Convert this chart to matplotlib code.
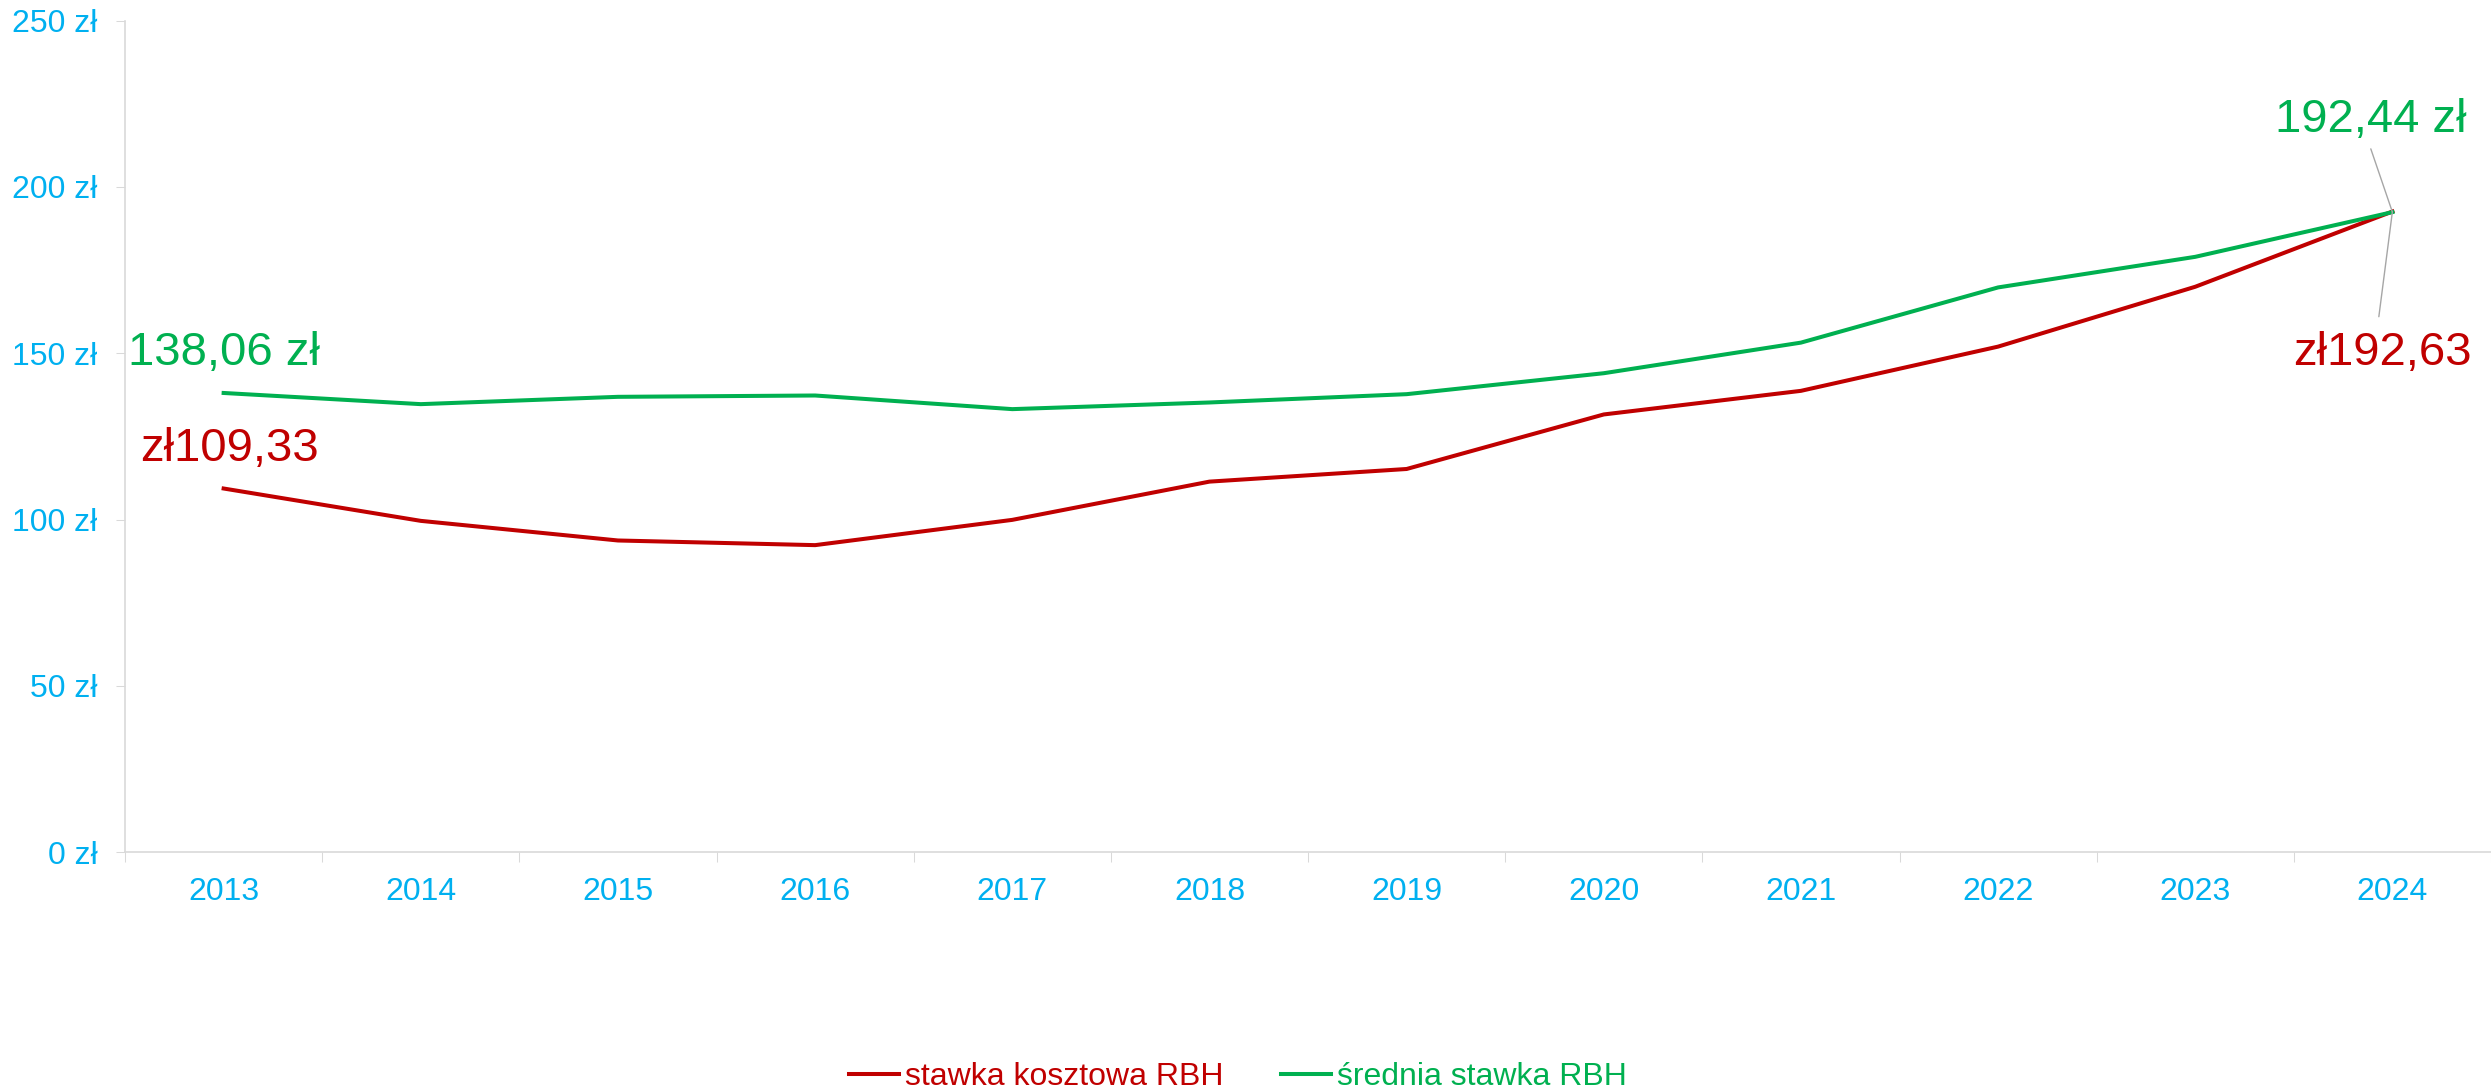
import matplotlib
matplotlib.use("Agg")
import matplotlib.pyplot as plt
from matplotlib.ticker import FixedLocator


plt.rcParams["font.family"] = ["Liberation Sans", "DejaVu Sans"]

years = ["2013", "2014", "2015", "2016", "2017", "2018",
         "2019", "2020", "2021", "2022", "2023", "2024"]

stawka_kosztowa = [109.33, 99.6, 93.7, 92.3, 99.9, 111.4,
                   115.2, 131.6, 138.7, 152.0, 170.0, 192.63]
srednia_stawka = [138.06, 134.7, 136.9, 137.3, 133.2, 135.2,
                  137.7, 144.0, 153.2, 169.8, 179.0, 192.44]

y_ticks = [0, 50, 100, 150, 200, 250]

RED = "#C00000"
GREEN = "#00B050"
BLUE = "#00B0F0"
GRID = "#D9D9D9"
LEADER = "#A6A6A6"


def pln_suffix(v):
    return f"{v:.2f}".replace(".", ",") + " zł"


def pln_prefix(v):
    return "zł" + f"{v:.2f}".replace(".", ",")


fig = plt.figure(figsize=(24.91, 10.91), dpi=100)
ax = fig.add_axes([0.0502, 0.219, 0.9498, 0.762])

x = list(range(len(years)))
ax.plot(x, stawka_kosztowa, color=RED, lw=2.9, label="stawka kosztowa RBH",
        solid_joinstyle="round")
ax.plot(x, srednia_stawka, color=GREEN, lw=2.9, label="średnia stawka RBH",
        solid_joinstyle="round")

ax.set_xlim(-0.5, len(years) - 0.5)
ax.set_ylim(0, 250)

ax.set_yticks(y_ticks)
ax.set_yticklabels([f"{t} zł" for t in y_ticks])
ax.set_xticks(x)
ax.set_xticklabels(years)
ax.xaxis.set_minor_locator(FixedLocator([i - 0.5 for i in range(len(years) + 1)]))

ax.tick_params(axis="y", colors=GRID, labelcolor=BLUE, labelsize=23,
               length=6.5, width=0.75, pad=13.5)
ax.tick_params(axis="x", which="major", length=0, labelcolor=BLUE,
               labelsize=23, pad=18)
ax.tick_params(axis="x", which="minor", length=7, width=0.75, colors=GRID)

for side in ["top", "right"]:
    ax.spines[side].set_visible(False)
for side in ["left", "bottom"]:
    ax.spines[side].set_color(GRID)
    ax.spines[side].set_linewidth(1.2)

# data labels on first and last points
first, last = 0, len(years) - 1
ax.annotate(pln_suffix(srednia_stawka[first]), xy=(first, srednia_stawka[first]),
            xytext=(0, 28), textcoords="offset pixels", ha="center",
            va="baseline", fontsize=34, color=GREEN)
ax.annotate(pln_prefix(stawka_kosztowa[first]), xy=(first, stawka_kosztowa[first]),
            xytext=(6, 28), textcoords="offset pixels", ha="center",
            va="baseline", fontsize=34, color=RED)
ax.annotate(pln_suffix(srednia_stawka[last]), xy=(last, srednia_stawka[last]),
            xytext=(-22, 80), textcoords="offset pixels", ha="center",
            va="baseline", fontsize=34, color=GREEN, annotation_clip=False,
            arrowprops=dict(arrowstyle="-", color=LEADER, lw=1,
                            relpos=(0.49, 0), shrinkA=3, shrinkB=0))
ax.annotate(pln_prefix(stawka_kosztowa[last]), xy=(last, stawka_kosztowa[last]),
            xytext=(-10, -153), textcoords="offset pixels", ha="center",
            va="baseline", fontsize=34, color=RED, annotation_clip=False,
            arrowprops=dict(arrowstyle="-", color=LEADER, lw=1,
                            relpos=(0.47, 1), shrinkA=8, shrinkB=0))

leg = fig.legend(loc="center", bbox_to_anchor=(0.497, 0.013), ncol=2,
                 frameon=False, fontsize=23, handlelength=1.55,
                 handletextpad=0.2, columnspacing=1.8)
for text, col in zip(leg.get_texts(), [RED, GREEN]):
    text.set_color(col)

fig.savefig("out.png", dpi=100)
